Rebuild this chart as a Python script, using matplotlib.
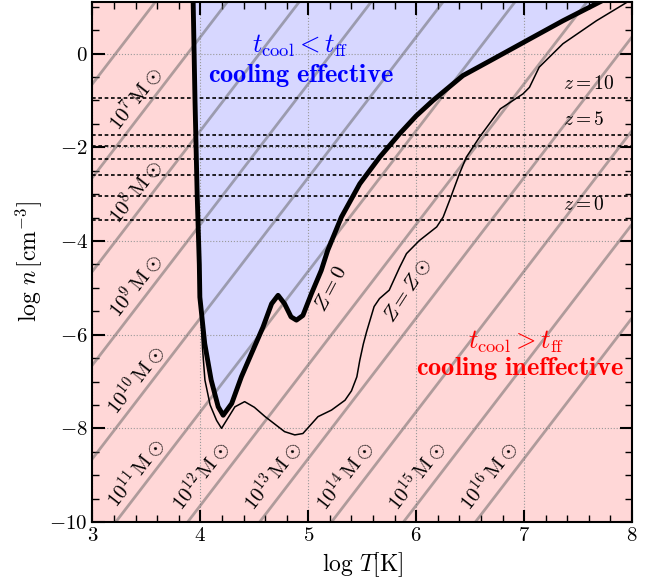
import matplotlib
matplotlib.use("Agg")
import numpy as np
import matplotlib.pyplot as plt
from matplotlib.ticker import MultipleLocator

plt.rcParams['font.family'] = 'serif'
plt.rcParams['font.serif'] = ['cmr10']
plt.rcParams['mathtext.fontset'] = 'cm'
plt.rcParams['axes.formatter.use_mathtext'] = True
plt.rcParams['axes.unicode_minus'] = True

# cooling time = free-fall time locus, primordial gas (Z = 0)
logT_z0 = [3.933, 3.95, 3.97, 3.99, 3.995, 4.04, 4.10, 4.165, 4.211, 4.29, 4.38,
           4.474, 4.58, 4.66, 4.72, 4.78, 4.84, 4.89, 4.95, 5.03, 5.12, 5.18,
           5.307, 5.477, 5.662, 5.847, 6.0, 6.156, 6.433, 6.743, 7.051, 7.36, 7.70]
logn_z0 = [1.10, -1.0, -3.0, -4.5, -5.2, -6.19, -6.97, -7.54, -7.72, -7.47, -6.9,
           -6.40, -5.84, -5.34, -5.16, -5.34, -5.62, -5.69, -5.59, -5.12, -4.63, -4.2,
           -3.49, -2.78, -2.21, -1.71, -1.33, -1.0, -0.47, -0.08, 0.31, 0.70, 1.10]

# same locus for solar metallicity gas
logT_zsun = [3.933, 3.95, 3.97, 3.99, 3.995, 4.005, 4.02, 4.042, 4.09, 4.15, 4.196,
             4.25, 4.32, 4.41, 4.50, 4.60, 4.78, 4.875, 4.95, 5.09, 5.215, 5.34,
             5.40, 5.45, 5.477, 5.51, 5.54, 5.61, 5.66, 5.75, 5.847, 5.91, 6.03, 6.19,
             6.25, 6.31, 6.40, 6.465, 6.588, 6.78, 6.99, 7.05, 7.14, 7.36, 7.67, 7.95]
logn_zsun = [1.10, -1.0, -3.0, -4.5, -5.2, -5.62, -6.3, -6.97, -7.5, -7.83, -8.0,
             -7.8, -7.54, -7.43, -7.55, -7.75, -8.07, -8.14, -8.11, -7.75, -7.61, -7.40,
             -7.2, -6.9, -6.55, -6.2, -5.94, -5.4, -5.23, -5.05, -4.56, -4.27, -3.99, -3.70,
             -3.49, -3.13, -2.57, -2.21, -1.78, -1.18, -0.86, -0.72, -0.29, 0.21, 0.70, 1.09]

# mean halo density at several redshifts
redshift = [10, 5, 4, 3, 2, 1, 0]
logn_mean = [-0.953, -1.733, -1.977, -2.254, -2.601, -3.049, -3.546]
labelled_z = [10, 5, 0]

# virial relation lines: log n = 3 (log T - logT0) - 10
halo_logM = [6, 7, 8, 9, 10, 11, 12, 13, 14, 15, 16]
logT0_m11 = 3.215   # log T at log n = -10 for 1e11 Msun

pink = '#ffd7d7'
blue = '#d7d7ff'

fig = plt.figure(figsize=(6.56, 5.82), dpi=100)
ax = fig.add_axes([0.141, 0.103, 0.8224, 0.8935])
ax.set_facecolor(pink)
xmin, xmax, ymin, ymax = 3, 8, -10, 1.1

# region where gas can cool within a free-fall time
ax.fill(logT_z0, logn_z0, color=blue, lw=0, zorder=1)

ax.grid(True, which='major', ls=':', color='0.6', lw=0.8)

for m in halo_logM:
    t0 = logT0_m11 + 2.0 / 3.0 * (m - 11)
    yy = np.array([-11.0, 2.0])
    ax.plot(t0 + (yy + 10) / 3.0, yy, color='0.38', alpha=0.5, lw=2, zorder=2)
    if m < 7:
        continue
    if m <= 11:
        tx = 3.40
        ty = 3.0 * (tx - t0) - 10 + 0.5
    else:
        ty = -9.0
        tx = t0 + (ty + 10) / 3.0 - 0.21
    ax.text(tx, ty, r'$10^{%d}\,\mathrm{M}\odot$' % m, rotation=52,
            ha='center', va='center', fontsize=15, zorder=4)

for z, ln in zip(redshift, logn_mean):
    ax.axhline(ln, color='black', ls=(0, (2.2, 1.6)), lw=1.2, zorder=2.5)
    if z in labelled_z:
        ax.text(7.36, ln + 0.12, r'$z = %d$' % z, ha='left', va='bottom',
                fontsize=14, zorder=4)

ax.plot(logT_zsun, logn_zsun, color='black', lw=1.1, zorder=3)
ax.plot(logT_z0, logn_z0, color='black', lw=3.5, zorder=3.5)

ax.text(5.215, -5.02, r'$Z = 0$', rotation=62, ha='center', va='center',
        fontsize=15, zorder=4)
ax.text(5.92, -5.05, r'$Z = Z\odot$', rotation=57, ha='center', va='center',
        fontsize=15, zorder=4)

ax.text(4.93, 0.17, r'$t_{\rm cool} < t_{\rm ff}$', color='blue', ha='center',
        va='center', fontsize=19, zorder=4)
ax.text(4.93, -0.47, r'$\mathbf{cooling\ effective}$', color='blue',
        ha='center', va='center', fontsize=19, zorder=4)
ax.text(6.93, -6.16, r'$t_{\rm cool} > t_{\rm ff}$', color='red', ha='center',
        va='center', fontsize=19, zorder=4)
ax.text(6.96, -6.72, r'$\mathbf{cooling\ ineffective}$', color='red',
        ha='center', va='center', fontsize=19, zorder=4)

ax.set_xlim(xmin, xmax)
ax.set_ylim(ymin, ymax)
ax.xaxis.set_major_locator(MultipleLocator(1))
ax.xaxis.set_minor_locator(MultipleLocator(0.2))
ax.yaxis.set_major_locator(MultipleLocator(2))
ax.yaxis.set_minor_locator(MultipleLocator(0.5))
ax.tick_params(which='both', direction='in', top=True, right=True, labelsize=15)
ax.tick_params(which='major', length=9, width=1.5)
ax.tick_params(which='minor', length=5, width=1)
for s in ax.spines.values():
    s.set_linewidth(1.5)

ax.set_xlabel(r'$\log\,T[\mathrm{K}]$', fontsize=17)
ax.set_ylabel(r'$\log\,n\,[\mathrm{cm}^{-3}]$', fontsize=17)

fig.savefig('out.png', dpi=100)
